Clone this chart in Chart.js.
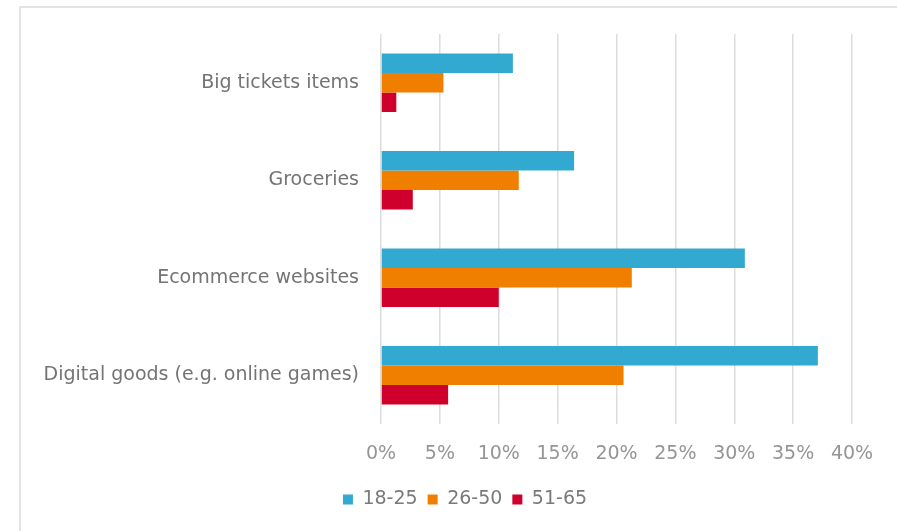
<!doctype html>
<html>
<head>
<meta charset="utf-8">
<title>Purchases by age group</title>
<style>
  body { margin: 0; background: #fff; }
  #frame { position: absolute; left: 19px; top: 6px; width: 900px; height: 540px;
           border-left: 2px solid #e3e3e3; border-top: 2px solid #e3e3e3; }
  #wrap { position: absolute; left: 0; top: 0; width: 897px; height: 531px; }
</style>
</head>

<body>
  <div id="frame"></div>
  <div id="wrap"><canvas id="myChart"></canvas></div>
  <script src="https://cdn.jsdelivr.net/npm/chart.js@4/dist/chart.umd.min.js"></script>
  <script>
    const categories = ['Big tickets items', 'Groceries', 'Ecommerce websites', 'Digital goods (e.g. online games)'];
    const age18to25 = [11.2, 16.4, 30.9, 37.1];
    const age26to50 = [5.3, 11.7, 21.3, 20.6];
    const age51to65 = [1.3, 2.7, 10.0, 5.7];
    const xTicks = [0, 5, 10, 15, 20, 25, 30, 35, 40];
  </script>
  <script>
    const FONT = '"DejaVu Sans", Verdana, sans-serif';
    // legend sits a bit right of the canvas centre in the original
    const shiftLegend = {
      id: 'shiftLegend',
      afterLayout: function (chart) {
        chart.legend.left += 39;
        chart.legend.right += 39;
      }
    };
    const ctx = document.getElementById('myChart');
    var myChart = new Chart(ctx, {
      type: 'bar',
      data: {
        labels: categories,
        datasets: [
          { label: '18-25', data: age18to25, backgroundColor: '#31a9d0' },
          { label: '26-50', data: age26to50, backgroundColor: '#f07f00' },
          { label: '51-65', data: age51to65, backgroundColor: '#d0002d' }
        ]
      },
      plugins: [shiftLegend],
      options: {
        indexAxis: 'y',
        responsive: true,
        maintainAspectRatio: false,
        animation: false,
        categoryPercentage: 0.6,
        barPercentage: 1.0,
        layout: { padding: { left: 0, right: 45, top: 34, bottom: 12 } },
        scales: {
          x: {
            min: 0,
            max: 40,
            afterBuildTicks: function (scale) {
              scale.ticks = xTicks.map(function (v) { return { value: v }; });
            },
            afterFit: function (scale) { scale.height = 56; },
            grid: { color: '#dcdcdc', lineWidth: 1.5, drawTicks: false },
            border: { display: false },
            ticks: {
              padding: 19,
              color: '#959595',
              font: { family: FONT, size: 19 },
              callback: function (v) { return v + '%'; }
            }
          },
          y: {
            afterFit: function (scale) { scale.width = 381; },
            grid: { display: false },
            border: { display: false },
            ticks: {
              padding: 14,
              color: '#747474',
              font: { family: FONT, size: 19 }
            }
          }
        },
        plugins: {
          legend: {
            position: 'bottom',
            labels: {
              boxWidth: 10,
              boxHeight: 10,
              padding: 10,
              color: '#7a7a7a',
              font: { family: FONT, size: 19 }
            }
          },
          tooltip: { enabled: false }
        }
      }
    });
  </script>
</body>
</html>
